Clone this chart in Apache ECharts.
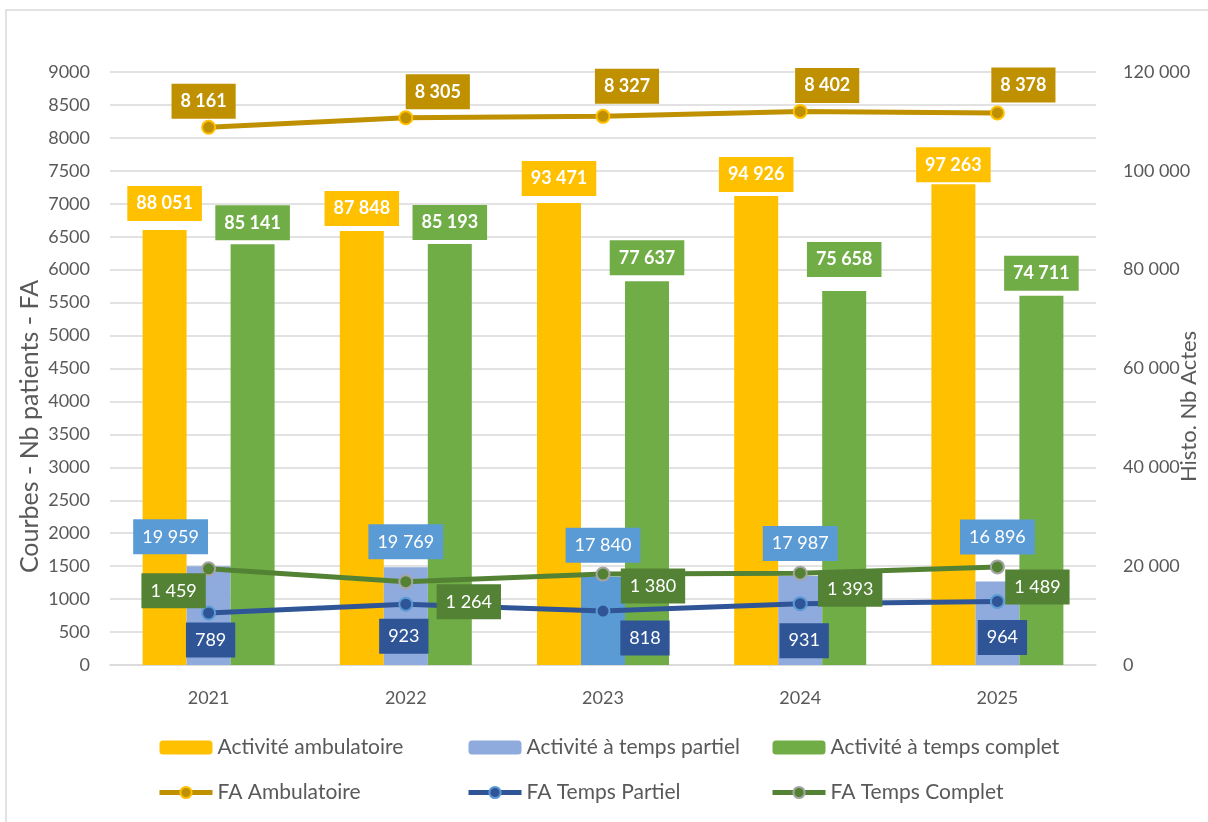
<!DOCTYPE html>
<html>
<head>
<meta charset="utf-8">
<script src="https://cdn.jsdelivr.net/npm/echarts@6/dist/echarts.min.js"></script>
<style>
  html, body { margin: 0; padding: 0; background: #ffffff; }
  #chart { width: 1208px; height: 822px; }
</style>
</head>
<body>
<div id="chart"></div>
<script>
// Categories
const years = ['2021', '2022', '2023', '2024', '2025'];

// Histogram values (right axis) - number of acts
const actAmbulatoire = [88051, 87848, 93471, 94926, 97263];
const actPartiel = [19959, 19769, 17840, 17987, 16896];
const actComplet = [85141, 85193, 77637, 75658, 74711];

// Curve values (left axis) - number of patients (FA)
const faAmbulatoire = [8161, 8305, 8327, 8402, 8378];
const faPartiel = [789, 923, 818, 931, 964];
const faComplet = [1459, 1264, 1380, 1393, 1489];

// Axis scales
const leftAxis = { min: 0, max: 9000, interval: 500 };
const rightAxis = { min: 0, max: 120000, interval: 20000 };

// The 2023 part-time bar is drawn in a stronger blue
const partielAccentIndex = 2;

// Label placement (pixels): gap above bar tops, and nudges for hand-placed labels
const ambLabelGap = [9, 5, 7, 4, 2];
const compLabelGap = [4, 4, 6, 14, 5];
const partielLabelOffset = [[-38, -12], [0, -8], [0, -14], [0, -15], [0, -27]];
const faAmbLabelOffset = [[-5, -26], [32, -26], [24, -30], [27, -26], [26, -28]];
const faPartLabelOffset = [[2, 27], [-2, 32], [42, 27], [4, 37], [5, 36]];
const faCompLabelOffset = [[-35, 22], [63, 20], [50, 12], [50, 16], [40, 20]];

const FONT = 'Lato, "Open Sans", sans-serif';
const GREY_TEXT = '#595959';
const GRID_LINE = '#D9D9D9';

const fmtSpace = v => String(v).replace(/\B(?=(\d{3})+(?!\d))/g, '\u00a0');

function boxLabel(bg, bold, extra) {
  return Object.assign({
    show: true,
    color: '#ffffff',
    fontFamily: FONT,
    fontSize: 18,
    fontWeight: bold ? 'bold' : 'normal',
    lineHeight: 21,
    backgroundColor: bg,
    padding: [7, 9],
    formatter: p => fmtSpace(p.value)
  }, extra || {});
}

function lineData(values, offsets) {
  return values.map((v, i) => ({ value: v, label: { offset: offsets[i] } }));
}

function gapData(values, gaps) {
  return values.map((v, i) => ({ value: v, label: { distance: gaps[i] } }));
}

const chart = echarts.init(document.getElementById('chart'), null, { renderer: 'canvas' });

const legendCommon = {
  orient: 'vertical',
  top: 737,
  padding: 0,
  itemWidth: 53,
  itemHeight: 14,
  itemGap: 24,
  lineStyle: { width: 5 },
  textStyle: { color: GREY_TEXT, fontFamily: FONT, fontSize: 21 }
};

chart.setOption({
  backgroundColor: '#ffffff',
  animation: false,
  textStyle: { fontFamily: FONT },
  graphic: [{
    type: 'rect',
    shape: { x: 6, y: 10, width: 1220, height: 830 },
    style: { fill: 'none', stroke: '#D9D9D9', lineWidth: 1.5 },
    silent: true,
    z: -10
  }],
  grid: { left: 110, right: 100, top: 72, bottom: 157, containLabel: false },
  legend: [
    Object.assign({}, legendCommon, { left: 157, data: ['Activité ambulatoire', 'FA Ambulatoire'] }),
    Object.assign({}, legendCommon, { left: 466, data: ['Activité à temps partiel', 'FA Temps Partiel'] }),
    Object.assign({}, legendCommon, { left: 770, data: ['Activité à temps complet', 'FA Temps Complet'] })
  ],
  xAxis: {
    type: 'category',
    data: years,
    axisLine: { show: true, lineStyle: { color: GRID_LINE, width: 1.5 } },
    axisTick: { show: false },
    axisLabel: { color: GREY_TEXT, fontFamily: FONT, fontSize: 18, margin: 24 }
  },
  yAxis: [
    {
      type: 'value',
      min: leftAxis.min, max: leftAxis.max, interval: leftAxis.interval,
      name: 'Courbes - Nb patients - FA',
      nameLocation: 'middle',
      nameRotate: 90,
      nameGap: 68,
      nameMoveOverlap: false,
      nameTextStyle: { color: GREY_TEXT, fontFamily: FONT, fontSize: 25, padding: [0, 116, 0, 0] },
      axisLine: { show: false },
      axisTick: { show: false },
      axisLabel: { color: GREY_TEXT, fontFamily: FONT, fontSize: 18, margin: 20, formatter: v => String(v) },
      splitLine: { show: true, lineStyle: { color: GRID_LINE, width: 1.5 } }
    },
    {
      type: 'value',
      min: rightAxis.min, max: rightAxis.max, interval: rightAxis.interval,
      position: 'right',
      name: 'Histo. Nb Actes',
      nameLocation: 'middle',
      nameRotate: 90,
      nameGap: 82,
      nameMoveOverlap: false,
      nameTextStyle: { color: GREY_TEXT, fontFamily: FONT, fontSize: 22, padding: [0, 76, 0, 0] },
      axisLine: { show: false },
      axisTick: { show: false },
      axisLabel: { color: GREY_TEXT, fontFamily: FONT, fontSize: 18, margin: 27, formatter: fmtSpace },
      splitLine: { show: false }
    }
  ],
  series: [
    {
      name: 'Activité ambulatoire',
      type: 'bar',
      yAxisIndex: 1,
      barWidth: 44,
      barGap: '0%',
      itemStyle: { color: '#FFC000' },
      label: boxLabel('#FFC000', true, { position: 'top' }),
      data: gapData(actAmbulatoire, ambLabelGap),
      z: 2
    },
    {
      name: 'Activité à temps partiel',
      type: 'bar',
      yAxisIndex: 1,
      barWidth: 44,
      barGap: '0%',
      itemStyle: { color: '#8FAADC' },
      label: boxLabel('#5B9BD5', false, { position: 'top', distance: 0 }),
      data: actPartiel.map((v, i) => ({
        value: v,
        itemStyle: i === partielAccentIndex ? { color: '#5B9BD5' } : undefined,
        label: { offset: partielLabelOffset[i] }
      })),
      z: 2
    },
    {
      name: 'Activité à temps complet',
      type: 'bar',
      yAxisIndex: 1,
      barWidth: 44,
      barGap: '0%',
      itemStyle: { color: '#70AD47' },
      label: boxLabel('#70AD47', true, { position: 'top' }),
      data: gapData(actComplet, compLabelGap),
      z: 2
    },
    {
      name: 'FA Ambulatoire',
      type: 'line',
      yAxisIndex: 0,
      symbol: 'circle',
      symbolSize: 13,
      lineStyle: { color: '#BF9000', width: 5 },
      itemStyle: { color: '#BF9000', borderColor: '#FFC000', borderWidth: 2 },
      label: boxLabel('#BF9000', true, { position: 'inside' }),
      data: lineData(faAmbulatoire, faAmbLabelOffset),
      z: 5
    },
    {
      name: 'FA Temps Partiel',
      type: 'line',
      yAxisIndex: 0,
      symbol: 'circle',
      symbolSize: 13,
      lineStyle: { color: '#2F5597', width: 5 },
      itemStyle: { color: '#2F5597', borderColor: '#5B9BD5', borderWidth: 2 },
      label: boxLabel('#2F5597', false, { position: 'inside' }),
      data: lineData(faPartiel, faPartLabelOffset),
      z: 5
    },
    {
      name: 'FA Temps Complet',
      type: 'line',
      yAxisIndex: 0,
      symbol: 'circle',
      symbolSize: 13,
      lineStyle: { color: '#548235', width: 5 },
      itemStyle: { color: '#548235', borderColor: '#A5A5A5', borderWidth: 2 },
      label: boxLabel('#548235', false, { position: 'inside' }),
      data: lineData(faComplet, faCompLabelOffset),
      z: 5
    }
  ]
});
</script>
</body>
</html>
